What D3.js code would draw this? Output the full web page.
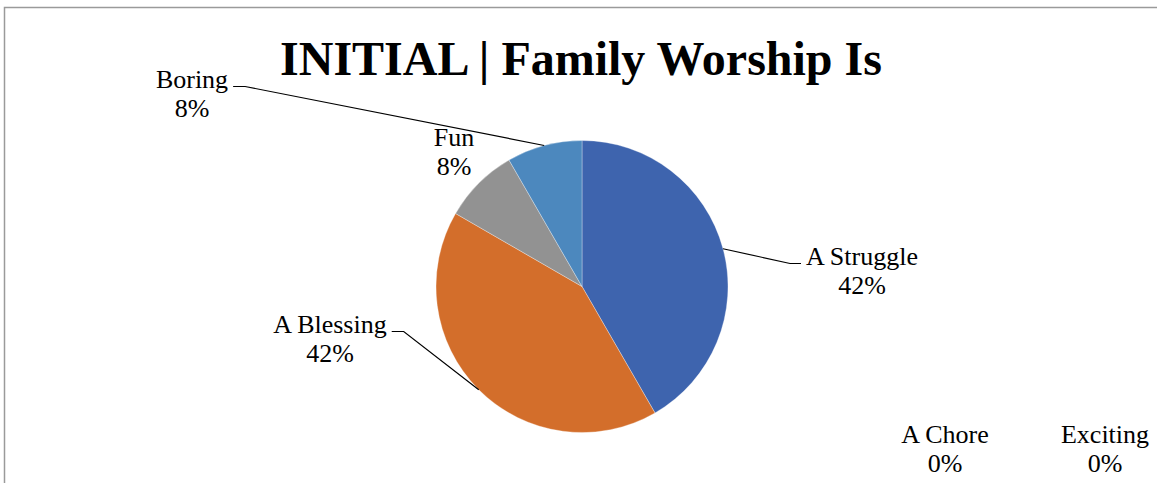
<!DOCTYPE html>
<html>
<head>
<meta charset="utf-8">
<script src="https://cdn.jsdelivr.net/npm/d3@7"></script>
<style>
  html, body { margin: 0; padding: 0; background: #fff; }
  svg { display: block; }
  text { font-family: "Liberation Serif", "Times New Roman", serif; fill: #000; }
</style>
</head>
<body>
<svg id="chart" width="1157" height="483"></svg>
<script>
// Survey responses: "Family Worship Is ..." (initial round)
const categories = ["A Struggle", "A Blessing", "Fun", "A Chore", "Boring", "Exciting"];
const responses  = [5, 5, 1, 0, 1, 0];
const sliceColors = ["#3E64AE", "#D36E2B", "#929292", "#E8AE1B", "#4C88BE", "#5E9A3C"];
const chartTitle = "INITIAL | Family Worship Is";

const W = 1157, H = 483;
const cx = 582, cy = 286.5, R = 146;

// Data-label placement (label centre relative to pie centre) and whether a leader line is drawn
const labelLayout = {
  "A Struggle": { dx: 280, dy: -22, leader: true, side: "right" },
  "A Blessing": { dx: -252, dy: 46, leader: true, side: "left" },
  "Fun":        { dx: -128, dy: -141, leader: false },
  "A Chore":    { dx: 363, dy: 156, leader: false },
  "Boring":     { dx: -390, dy: -199, leader: true, side: "left" },
  "Exciting":   { dx: 523, dy: 156, leader: false }
};

const svg = d3.select("#chart");

// Chart area frame
svg.append("path")
  .attr("d", `M4.5,${H} L4.5,7.5 L${W},7.5`)
  .attr("fill", "none")
  .attr("stroke", "#9a9a9a")
  .attr("stroke-width", 1.5);

// Title
svg.append("text")
  .attr("x", 581)
  .attr("y", 75)
  .attr("text-anchor", "middle")
  .style("font-size", "48px")
  .style("font-weight", "bold")
  .text(chartTitle);

const data = categories.map((c, i) => ({ name: c, value: responses[i], color: sliceColors[i] }));
const total = d3.sum(responses);

const pie = d3.pie().value(d => d.value).sort(null);
const arcs = pie(data);
const arc = d3.arc().innerRadius(0).outerRadius(R);

const g = svg.append("g").attr("transform", `translate(${cx},${cy})`);

g.selectAll("path.slice")
  .data(arcs.filter(a => a.data.value > 0))
  .join("path")
  .attr("class", "slice")
  .attr("d", arc)
  .attr("fill", d => d.data.color)
  .attr("stroke", "rgba(255,255,255,0.45)")
  .attr("stroke-width", 0.7);

const pct = d3.format(".0%");
const lineH = 29;

arcs.forEach(a => {
  const lay = labelLayout[a.data.name];
  const lx = lay.dx, ly = lay.dy;
  const t = g.append("text")
    .attr("text-anchor", "middle")
    .style("font-size", "26px");
  t.append("tspan").attr("x", lx).attr("y", ly).text(a.data.name);
  t.append("tspan").attr("x", lx).attr("y", ly + lineH).text(pct(a.data.value / total));

  if (lay.leader) {
    const node = t.node().firstChild;
    const w = node.getComputedTextLength();
    const [ex, ey] = d3.arc().innerRadius(R).outerRadius(R).centroid(a);
    const yLine = ly - 1;
    let x0, x1;
    if (lay.side === "right") {
      x0 = lx - w / 2 - 5;
      x1 = x0 - 11;
    } else {
      x0 = lx + w / 2 + 5;
      x1 = x0 + 12;
    }
    g.append("path")
      .attr("d", d3.line()([[x0, yLine], [x1, yLine], [ex, ey]]))
      .attr("fill", "none")
      .attr("stroke", "#000")
      .attr("stroke-width", 1.2);
  }
});
</script>
</body>
</html>
